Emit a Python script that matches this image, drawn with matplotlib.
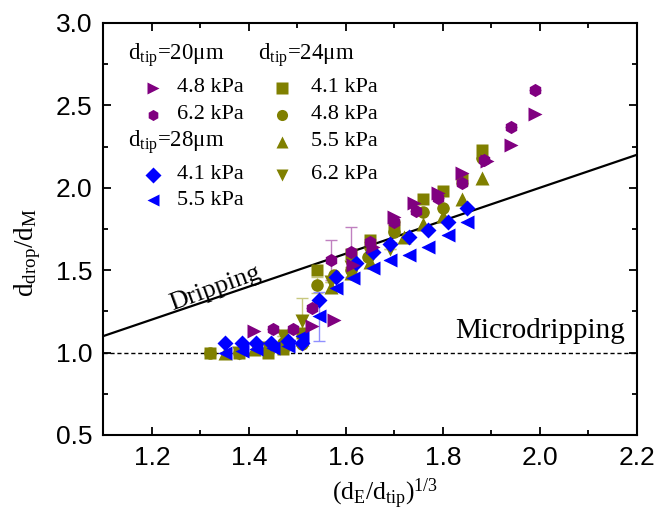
import numpy as np
import matplotlib.pyplot as plt
from matplotlib.ticker import MultipleLocator

plt.rcParams['font.family'] = ['Liberation Serif', 'DejaVu Serif']
plt.rcParams['mathtext.fontset'] = 'custom'
plt.rcParams['mathtext.rm'] = 'Liberation Serif'
plt.rcParams['mathtext.it'] = 'Liberation Serif:italic'

purple = '#800080'
olive = '#808000'
blue = '#0000FF'

# d_tip = 20 um
x20_48 = [1.41, 1.53, 1.575, 1.615, 1.655, 1.70, 1.74, 1.79, 1.84, 1.89, 1.94, 1.99]
y20_48 = [1.13, 1.16, 1.20, 1.53, 1.64, 1.82, 1.91, 1.97, 2.09, 2.16, 2.26, 2.45]
x20_62 = [1.45, 1.49, 1.53, 1.57, 1.61, 1.65, 1.70, 1.745, 1.79, 1.84, 1.885, 1.94, 1.99]
y20_62 = [1.14, 1.14, 1.27, 1.56, 1.61, 1.67, 1.79, 1.86, 1.94, 2.03, 2.17, 2.37, 2.59]
e20_62 = [0, 0, 0, 0.12, 0.15, 0, 0, 0, 0, 0, 0, 0, 0]

# d_tip = 24 um
x24_41 = [1.32, 1.38, 1.44, 1.47, 1.51, 1.54, 1.61, 1.65, 1.70, 1.76, 1.80, 1.84, 1.88]
y24_41 = [1.00, 1.00, 1.00, 1.02, 1.12, 1.50, 1.60, 1.68, 1.77, 1.93, 1.98, 2.05, 2.23]
x24_48 = [1.32, 1.38, 1.44, 1.47, 1.51, 1.54, 1.575, 1.61, 1.645, 1.70, 1.76, 1.80, 1.88]
y24_48 = [1.00, 1.00, 1.01, 1.06, 1.05, 1.41, 1.47, 1.50, 1.58, 1.73, 1.85, 1.88, 2.18]
e24_48 = [0, 0, 0, 0, 0, 0.05, 0, 0, 0, 0, 0, 0, 0]
x24_55 = [1.35, 1.41, 1.47, 1.51, 1.57, 1.61, 1.65, 1.72, 1.76, 1.80, 1.84, 1.88]
y24_55 = [1.00, 1.02, 1.05, 1.08, 1.40, 1.48, 1.55, 1.70, 1.78, 1.83, 1.93, 2.06]
x24_62 = [1.38, 1.44, 1.47, 1.51, 1.57, 1.61, 1.65, 1.69]
y24_62 = [1.00, 1.03, 1.10, 1.19, 1.43, 1.52, 1.60, 1.63]
e24_62 = [0, 0, 0, 0.14, 0, 0, 0, 0]

# d_tip = 28 um
x28_41 = [1.35, 1.385, 1.415, 1.445, 1.48, 1.51, 1.545, 1.58, 1.62, 1.655, 1.69, 1.73, 1.77, 1.81, 1.85]
y28_41 = [1.06, 1.06, 1.055, 1.06, 1.07, 1.06, 1.32, 1.46, 1.545, 1.61, 1.66, 1.70, 1.745, 1.79, 1.88]
x28_55 = [1.35, 1.385, 1.415, 1.45, 1.48, 1.51, 1.545, 1.58, 1.615, 1.655, 1.69, 1.73, 1.77, 1.81, 1.85]
y28_55 = [1.00, 1.01, 1.02, 1.03, 1.04, 1.10, 1.22, 1.39, 1.45, 1.515, 1.56, 1.59, 1.64, 1.715, 1.79]
e28_55 = [0, 0, 0, 0, 0, 0, 0.15, 0, 0, 0, 0, 0, 0, 0, 0]

fig = plt.figure(figsize=(6.58, 5.2), dpi=100)
ax = fig.add_axes([0.157, 0.1635, 0.811, 0.7925])

ms = 9.5
ax.errorbar(x24_41, y24_41, fmt='s', color=olive, ms=ms - 1.5, mec='none')
ax.errorbar(x24_48, y24_48, yerr=e24_48, fmt='o', color=olive, ms=ms - 0.5, mec='none',
            ecolor='#c8c880', elinewidth=1, capsize=4)
ax.errorbar(x24_55, y24_55, fmt='^', color=olive, ms=ms, mec='none')
ax.errorbar(x24_62, y24_62, yerr=e24_62, fmt='v', color=olive, ms=ms, mec='none',
            ecolor='#c8c880', elinewidth=1, capsize=4)
ax.errorbar(x28_41, y28_41, fmt='D', color=blue, ms=ms - 1.5, mec='none')
ax.errorbar(x28_55, y28_55, yerr=e28_55, fmt='<', color=blue, ms=ms, mec='none',
            ecolor='#9090ff', elinewidth=1, capsize=4)
ax.errorbar(x20_48, y20_48, fmt='>', color=purple, ms=ms, mec='none')
ax.errorbar(x20_62, y20_62, yerr=e20_62, fmt='h', color=purple, ms=ms, mec='none',
            ecolor='#c080c0', elinewidth=1, capsize=4)

# regime boundaries
xl = np.array([1.1, 2.2])
ax.plot(xl, xl, color='black', lw=1.6)
ax.axhline(1.0, color='black', lw=1, ls=(0, (3, 2)))
ax.text(1.33, 1.39, 'Dripping', fontsize=19, rotation=20, ha='center', va='center')
ax.text(2.0, 1.13, 'Microdripping', fontsize=21, ha='center', va='center')

# legend drawn by hand
tr = ax.transAxes
fh = 16.5
fs = 16
ax.text(0.046, 0.922, r'$\mathrm{d_{tip}}$=20μm', fontsize=fh, transform=tr, va='center')
ax.text(0.29, 0.922, r'$\mathrm{d_{tip}}$=24μm', fontsize=fh, transform=tr, va='center')
ax.text(0.046, 0.711, r'$\mathrm{d_{tip}}$=28μm', fontsize=fh, transform=tr, va='center')
left_rows = [('>', purple, '4.8 kPa', 0.842), ('h', purple, '6.2 kPa', 0.777),
             ('D', blue, '4.1 kPa', 0.631), ('<', blue, '5.5 kPa', 0.570)]
right_rows = [('s', olive, '4.1 kPa', 0.842), ('o', olive, '4.8 kPa', 0.777),
              ('^', olive, '5.5 kPa', 0.711), ('v', olive, '6.2 kPa', 0.631)]
for m, c, lab, fy in left_rows:
    ax.plot([0.093], [fy], m, color=c, ms=8, mec='none', transform=tr)
    ax.text(0.138, fy, lab, fontsize=fs, transform=tr, va='center')
for m, c, lab, fy in right_rows:
    ax.plot([0.335], [fy], m, color=c, ms=8, mec='none', transform=tr)
    ax.text(0.39, fy, lab, fontsize=fs, transform=tr, va='center')

ax.set_xlim(1.1, 2.2)
ax.set_ylim(0.5, 3.0)
ax.xaxis.set_major_locator(MultipleLocator(0.2))
ax.xaxis.set_minor_locator(MultipleLocator(0.1))
ax.yaxis.set_major_locator(MultipleLocator(0.5))
ax.yaxis.set_minor_locator(MultipleLocator(0.25))
ax.tick_params(which='both', direction='in', top=True, right=True, width=1.3)
ax.tick_params(which='major', length=6, labelsize=19, pad=8)
ax.tick_params(which='minor', length=3.5)
for lab in ax.get_xticklabels() + ax.get_yticklabels():
    lab.set_fontfamily('Liberation Sans')
for s in ax.spines.values():
    s.set_linewidth(1.5)

ax.set_xlabel(r'$\mathrm{(d_E/d_{tip})^{1/3}}$', fontsize=18.5)
ax.xaxis.set_label_coords(0.528, -0.10)
ax.set_ylabel(r'$\mathrm{d_{drop}/d_M}$', fontsize=19.5)
ax.yaxis.set_label_coords(-0.113, 0.442)

fig.savefig('out.png', dpi=100)
